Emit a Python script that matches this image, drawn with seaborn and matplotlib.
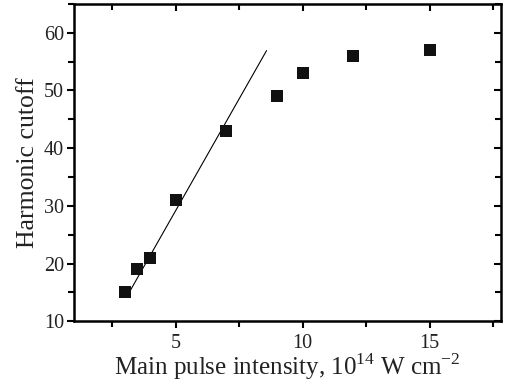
import numpy as np
import pandas as pd
import matplotlib
matplotlib.use("Agg")
import matplotlib.pyplot as plt
from matplotlib.ticker import MultipleLocator
import seaborn as sns

# measured points
intensity = [3.0, 3.5, 4.0, 5.0, 7.0, 9.0, 10.0, 12.0, 15.0]
cutoff = [15, 19, 21, 31, 43, 49, 53, 56, 57]

# linear fit drawn over the low-intensity part
fit_x = [3.15, 8.58]
fit_y = [14.8, 56.9]

x_ticks = [5, 10, 15]
y_ticks = [10, 20, 30, 40, 50, 60]

sns.set_theme(style="ticks")
plt.rcParams['font.family'] = ['Liberation Serif', 'DejaVu Serif']
plt.rcParams['mathtext.fontset'] = 'custom'
plt.rcParams['mathtext.rm'] = 'Liberation Serif'

df = pd.DataFrame({'x': intensity, 'y': cutoff})
df_fit = pd.DataFrame({'x': fit_x, 'y': fit_y})

fig = plt.figure(figsize=(5.10, 3.87), dpi=100)
ax = fig.add_axes([0.145, 0.170, 0.837, 0.820])

sns.lineplot(data=df_fit, x='x', y='y', ax=ax, color='black', linewidth=0.8)
sns.scatterplot(data=df, x='x', y='y', ax=ax, marker='s', s=70,
                color='#111111', edgecolor='#111111', linewidth=0, zorder=3)

ax.set_xlim(1.0, 17.8)
ax.set_ylim(10, 65)
ax.set_xticks(x_ticks)
ax.set_yticks(y_ticks)
ax.xaxis.set_minor_locator(MultipleLocator(2.5))
ax.yaxis.set_minor_locator(MultipleLocator(5))

for side in ['left', 'right', 'top', 'bottom']:
    ax.spines[side].set_visible(True)
    ax.spines[side].set_linewidth(1.8)
    ax.spines[side].set_color('black')

ax.tick_params(axis='both', which='both', direction='out', color='black',
               width=1.5, labelsize=14.5, labelcolor='#222222')
ax.tick_params(which='major', length=5)
ax.tick_params(which='minor', length=4)
ax.tick_params(axis='x', which='both', top=True, pad=4)
ax.tick_params(axis='y', which='both', right=True, pad=2)

# mirrored ticks on top/right point inward
for t in ax.xaxis.get_major_ticks() + ax.xaxis.get_minor_ticks():
    t.tick2line.set_marker(3)
for t in ax.yaxis.get_major_ticks() + ax.yaxis.get_minor_ticks():
    t.tick2line.set_marker(0)

ax.set_xlabel('Main pulse intensity, 10$^{14}$ W cm$^{-2}$', fontsize=18,
              color='#222222')
ax.xaxis.set_label_coords(0.5, -0.095)
ax.set_ylabel('Harmonic cutoff', fontsize=18.5, color='#222222', labelpad=4)

fig.savefig('out.png', dpi=100)
